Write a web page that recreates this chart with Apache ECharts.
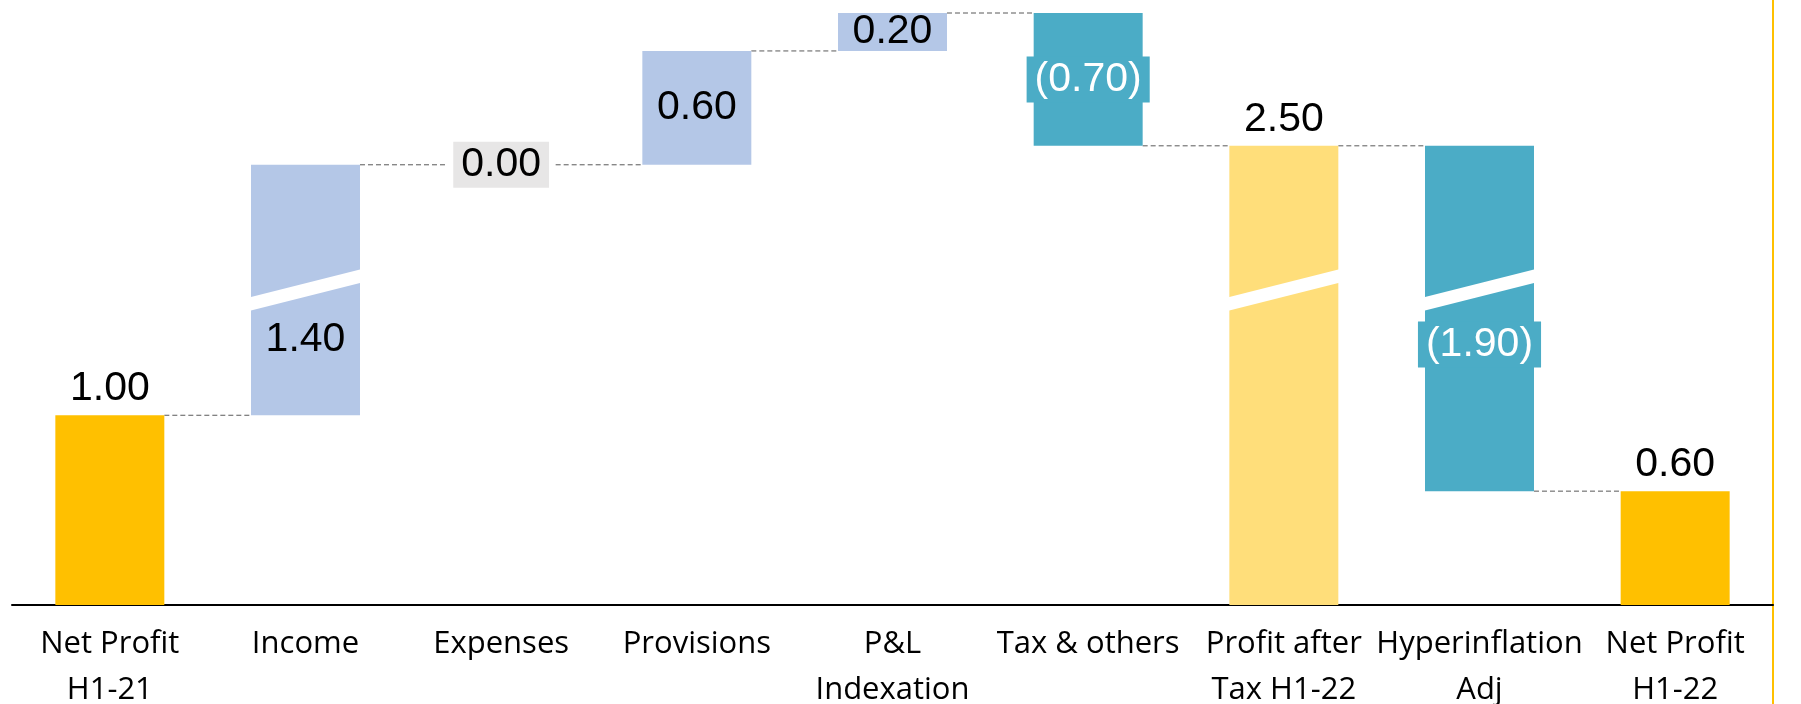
<!DOCTYPE html>
<html>
<head>
<meta charset="utf-8">
<script src="https://cdn.jsdelivr.net/npm/echarts@6/dist/echarts.min.js"></script>
<style>
  html, body { margin: 0; padding: 0; background: #ffffff; }
  #chart { width: 1801px; height: 704px; }
</style>
</head>
<body>
<div id="chart"></div>
<script>
// Profit bridge H1-21 -> H1-22
const categories = [
  'Net Profit\nH1-21', 'Income', 'Expenses', 'Provisions', 'P&L\nIndexation',
  'Tax & others', 'Profit after\nTax H1-22', 'Hyperinflation\nAdj', 'Net Profit\nH1-22'
];
const values  = [1.00, 1.40, 0.00, 0.60, 0.20, -0.70, 2.50, -1.90, 0.60];
const isTotal = [true, false, false, false, false, false, true, false, true];
// bars that are drawn through the compressed part of the value axis
const brokenBars = [1, 6, 7];
const axisBreak = { start: 1.66, end: 1.74 };

const BAR_RATIO = 0.557;
const COLORS = {
  total: '#FFC000',
  subtotal: '#FFDE7A',
  up: '#B4C7E7',
  down: '#4BACC6'
};

// stacked waterfall: invisible base + visible step
const bases = [], heights = [], levels = [];
let running = 0;
values.forEach((v, i) => {
  if (isTotal[i]) {
    bases.push(0);
    heights.push(v);
    running = v;
  } else {
    bases.push(Math.min(running, running + v));
    heights.push(Math.abs(v));
    running += v;
  }
  levels.push(running);
});

function fmt(v) {
  return v < 0 ? '(' + Math.abs(v).toFixed(2) + ')' : v.toFixed(2);
}

const baseLabel = {
  show: true,
  fontFamily: '"Liberation Sans", Arial, sans-serif',
  fontSize: 41,
  color: '#000000'
};

function barColor(i) {
  if (isTotal[i]) return i === 6 ? COLORS.subtotal : COLORS.total;
  return values[i] < 0 ? COLORS.down : COLORS.up;
}

function barLabel(i) {
  const text = fmt(values[i]);
  if (isTotal[i]) {
    return Object.assign({}, baseLabel, { position: 'top', distance: 6, formatter: text });
  }
  if (values[i] < 0) {
    return Object.assign({}, baseLabel, {
      position: 'inside', formatter: text, color: '#ffffff',
      backgroundColor: COLORS.down, padding: [0, 8], lineHeight: 46,
      offset: i === 7 ? [0, 26] : [0, 0]
    });
  }
  if (values[i] === 0) {
    return Object.assign({}, baseLabel, {
      position: 'inside', formatter: text,
      backgroundColor: '#E7E6E6', padding: [0, 8], lineHeight: 46
    });
  }
  return Object.assign({}, baseLabel, {
    position: 'inside', formatter: text,
    offset: i === 1 ? [0, 50] : [0, 0]
  });
}

const chart = echarts.init(document.getElementById('chart'), null, { renderer: 'canvas' });

chart.setOption({
  backgroundColor: '#ffffff',
  animation: false,
  grid: { left: 12, right: 28, top: 13, bottom: 99, containLabel: false, outerBoundsMode: 'none' },
  xAxis: {
    type: 'category',
    data: categories,
    axisTick: { show: false },
    axisLine: { show: true, lineStyle: { color: '#000000', width: 2 } },
    axisLabel: {
      interval: 0,
      margin: 16,
      fontFamily: '"Open Sans", "Noto Sans", sans-serif',
      fontSize: 31,
      lineHeight: 46,
      color: '#000000'
    },
    splitLine: { show: false }
  },
  yAxis: {
    type: 'value',
    show: false,
    min: 0,
    max: 3.2,
    splitLine: { show: false },
    breaks: [{ start: axisBreak.start, end: axisBreak.end, gap: 0 }],
    breakArea: { show: false }
  },
  series: [
    {
      name: 'connector',
      type: 'custom',
      z: 1,
      silent: true,
      data: levels.slice(0, -1).map((lv, i) => [i, lv]),
      encode: { x: 0, y: 1 },
      renderItem: function (params, api) {
        const i = api.value(0);
        const lv = api.value(1);
        const half = api.size([1, 0])[0] * BAR_RATIO / 2;
        const p0 = api.coord([i, lv]);
        const p1 = api.coord([i + 1, lv]);
        return {
          type: 'line',
          shape: { x1: p0[0] + half, y1: p0[1], x2: p1[0] - half, y2: p1[1] },
          style: { stroke: '#595959', lineWidth: 1, lineDash: [5, 3] }
        };
      }
    },
    {
      name: 'base',
      type: 'bar',
      stack: 'wf',
      barWidth: (BAR_RATIO * 100) + '%',
      silent: true,
      itemStyle: { color: 'transparent' },
      data: bases
    },
    {
      name: 'step',
      type: 'bar',
      stack: 'wf',
      barWidth: (BAR_RATIO * 100) + '%',
      data: heights.map((h, i) => ({
        value: h,
        itemStyle: { color: barColor(i) },
        label: barLabel(i)
      }))
    },
    {
      name: 'break',
      type: 'custom',
      z: 3,
      silent: true,
      data: brokenBars.map(i => [i, axisBreak.start]),
      encode: { x: 0, y: 1 },
      renderItem: function (params, api) {
        const p = api.coord([api.value(0), api.value(1)]);
        const hw = api.size([1, 0])[0] * BAR_RATIO / 2 + 1;
        const tilt = 14, thick = 6.75;
        return {
          type: 'polygon',
          shape: {
            points: [
              [p[0] - hw, p[1] + tilt - thick],
              [p[0] + hw, p[1] - tilt - thick],
              [p[0] + hw, p[1] - tilt + thick],
              [p[0] - hw, p[1] + tilt + thick]
            ]
          },
          style: { fill: '#ffffff' }
        };
      }
    }
  ],
  graphic: [
    {
      type: 'line',
      shape: { x1: 1773, y1: 0, x2: 1773, y2: 704 },
      style: { stroke: '#FFC000', lineWidth: 2 }
    }
  ]
});
</script>
</body>
</html>
